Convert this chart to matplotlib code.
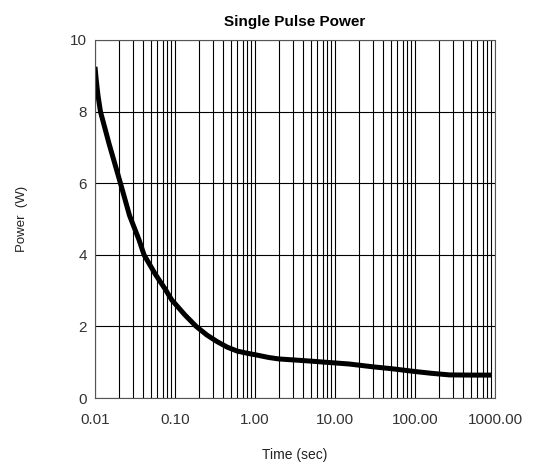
import numpy as np
import matplotlib.pyplot as plt
from matplotlib.ticker import LogLocator, FixedLocator, NullFormatter

plt.rcParams['font.family'] = ['Liberation Sans', 'DejaVu Sans']

# curve
time_sec = [0.01, 0.0104, 0.0109, 0.0117, 0.015, 0.0208, 0.027, 0.0356, 0.041, 0.057, 0.075,
            0.091, 0.133, 0.184, 0.25, 0.339, 0.45, 0.6, 0.8, 1.05, 1.5,
            2.0, 3.2, 5.0, 7.5, 15.0, 30.0, 50.0, 100.0, 160.0, 270.0, 500.0, 900.0]
power_w = [9.25, 8.85, 8.45, 8.0, 7.1, 6.0, 5.1, 4.41, 4.0, 3.45, 3.05,
           2.74, 2.32, 2.0, 1.76, 1.57, 1.42, 1.31, 1.25, 1.2, 1.13,
           1.09, 1.06, 1.03, 1.0, 0.95, 0.87, 0.82, 0.74, 0.69, 0.645, 0.64, 0.64]

xtick_vals = [0.01, 0.1, 1, 10, 100, 1000]
xtick_labels = ['0.01', '0.10', '1.00', '10.00', '100.00', '1000.00']

fig = plt.figure(figsize=(5.33, 4.72), dpi=100)
ax = fig.add_axes([95 / 533, 1 - 398 / 472, 400 / 533, 358 / 472])

ax.plot(time_sec, power_w, color='black', linewidth=3.6,
        solid_capstyle='butt', solid_joinstyle='round')

ax.set_xscale('log')
ax.set_xlim(0.01, 1000)
ax.set_ylim(0, 10)
ax.xaxis.set_major_locator(FixedLocator(xtick_vals))
ax.set_xticklabels(xtick_labels)
ax.xaxis.set_minor_locator(LogLocator(base=10, subs=np.arange(2, 10)))
ax.xaxis.set_minor_formatter(NullFormatter())
ax.set_yticks([0, 2, 4, 6, 8, 10])

ax.grid(True, which='both', axis='x', color='black', linewidth=0.8)
ax.grid(True, which='major', axis='y', color='black', linewidth=0.8)
ax.tick_params(which='both', length=0, labelsize=11, labelcolor='#333333')
ax.tick_params(axis='x', pad=11)
ax.tick_params(axis='y', pad=6)

for s in ax.spines.values():
    s.set_color('#555555')
    s.set_linewidth(0.8)

ax.set_title('Single Pulse Power', fontsize=11, fontweight='bold', pad=10)
ax.set_xlabel('Time (sec)', fontsize=10, color='#222222', labelpad=15)
ax.set_ylabel('Power  (W)', fontsize=9.5, color='#222222', labelpad=30)

fig.savefig('out.png', dpi=100)
